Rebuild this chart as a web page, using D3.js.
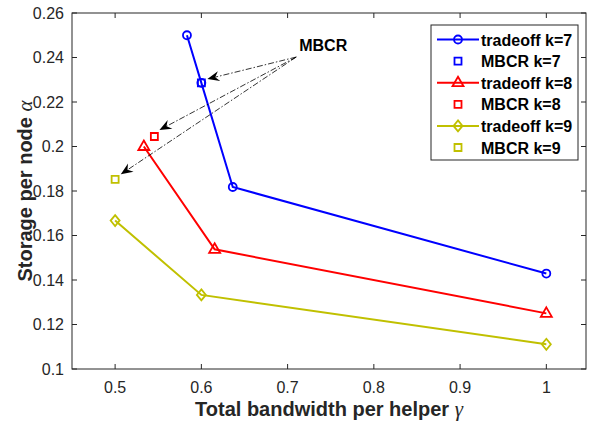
<!DOCTYPE html>
<html>
<head>
<meta charset="utf-8">
<script src="https://d3js.org/d3.v7.min.js"></script>
<style>
body { margin: 0; background: #fff; }
svg text { font-family: "Liberation Sans", Arial, sans-serif; }
</style>
</head>
<body>
<div id="chart"></div>
<script>
// series data
var x7 = [0.5833, 0.6, 0.6364, 1];
var y7 = [0.25, 0.2286, 0.1818, 0.1429];
var x8 = [0.5333, 0.6154, 1];
var y8 = [0.2, 0.1538, 0.125];
var x9 = [0.5, 0.6, 1];
var y9 = [0.1667, 0.1333, 0.1111];
var mbcrX = [0.6, 0.5455, 0.5];
var mbcrY = [0.2286, 0.2045, 0.1852];
var xTicks = [0.5, 0.6, 0.7, 0.8, 0.9, 1];
var yTicks = [0.1, 0.12, 0.14, 0.16, 0.18, 0.2, 0.22, 0.24, 0.26];
// annotation: text and arrows (data coords)
var noteText = "MBCR";
var notePos = [0.7135, 0.2456];
var arrowFrom = [0.71, 0.2402];
var arrowToX = [0.607, 0.5514, 0.5066];
var arrowToY = [0.2303, 0.2074, 0.1875];

var width = 590, height = 422;
var mLeft = 72, mRight = 586, mTop = 13, mBottom = 369;

var x = d3.scaleLinear().domain([0.45, 1.046]).range([mLeft, mRight]);
var y = d3.scaleLinear().domain([0.1, 0.26]).range([mBottom, mTop]);

var svg = d3.select("#chart").append("svg")
    .attr("width", width).attr("height", height);

var series = [
    {name: "tradeoff k=7", xs: x7, ys: y7, color: "#0000ff", marker: "circle"},
    {name: "tradeoff k=8", xs: x8, ys: y8, color: "#ff0000", marker: "triangle"},
    {name: "tradeoff k=9", xs: x9, ys: y9, color: "#c0c000", marker: "diamond"}
];

function markerPath(type) {
    if (type == "circle") return d3.symbol().type(d3.symbolCircle).size(50)();
    if (type == "triangle") return "M0,-6L5.5,3.5L-5.5,3.5Z";
    if (type == "diamond") return "M0,-5.5L4.5,0L0,5.5L-4.5,0Z";
    return "M-3.5,-3.5H3.5V3.5H-3.5Z";
}

// axes box
svg.append("rect").attr("x", mLeft).attr("y", mTop)
    .attr("width", mRight - mLeft).attr("height", mBottom - mTop)
    .attr("fill", "none").attr("stroke", "#262626").attr("stroke-width", 1);

// ticks, inward on all four sides
var axisG = svg.append("g").attr("stroke", "#262626").attr("stroke-width", 1);
xTicks.forEach(function(t) {
    axisG.append("line").attr("x1", x(t)).attr("x2", x(t)).attr("y1", mBottom).attr("y2", mBottom - 5);
    axisG.append("line").attr("x1", x(t)).attr("x2", x(t)).attr("y1", mTop).attr("y2", mTop + 5);
});
yTicks.forEach(function(t) {
    axisG.append("line").attr("y1", y(t)).attr("y2", y(t)).attr("x1", mLeft).attr("x2", mLeft + 5);
    axisG.append("line").attr("y1", y(t)).attr("y2", y(t)).attr("x1", mRight).attr("x2", mRight - 5);
});
svg.selectAll(".xt").data(xTicks).enter().append("text")
    .attr("x", function(d) { return x(d); }).attr("y", mBottom + 24)
    .attr("text-anchor", "middle").attr("font-size", "16px").attr("fill", "#262626")
    .text(function(d) { return d3.format("")(d); });
svg.selectAll(".yt").data(yTicks).enter().append("text")
    .attr("x", mLeft - 8).attr("y", function(d) { return y(d) + 5.5; })
    .attr("text-anchor", "end").attr("font-size", "16px").attr("fill", "#262626")
    .text(function(d) { return d3.format("")(d); });

// axis labels
var xl = svg.append("text").attr("x", (mLeft + mRight) / 2).attr("y", 416)
    .attr("text-anchor", "middle").attr("font-size", "20px").attr("font-weight", "bold").attr("fill", "#262626");
xl.append("tspan").text("Total bandwidth per helper ");
xl.append("tspan").attr("font-family", "'Liberation Serif', serif").attr("font-style", "italic")
    .attr("font-weight", "normal").attr("font-size", "21px").text("γ");
var yl = svg.append("text").attr("transform", "translate(32," + ((mTop + mBottom) / 2) + ") rotate(-90)")
    .attr("text-anchor", "middle").attr("font-size", "20px").attr("font-weight", "bold").attr("fill", "#262626");
yl.append("tspan").text("Storage per node ");
yl.append("tspan").attr("font-family", "'Liberation Serif', serif").attr("font-style", "italic")
    .attr("font-weight", "normal").attr("font-size", "21px").text("α");

// lines and markers
var line = d3.line().x(function(d) { return x(d[0]); }).y(function(d) { return y(d[1]); });
series.forEach(function(s) {
    var pts = s.xs.map(function(v, i) { return [v, s.ys[i]]; });
    svg.append("path").datum(pts).attr("d", line)
        .attr("fill", "none").attr("stroke", s.color).attr("stroke-width", 2);
    svg.selectAll(null).data(pts).enter().append("path")
        .attr("transform", function(d) { return "translate(" + x(d[0]) + "," + y(d[1]) + ")"; })
        .attr("d", markerPath(s.marker))
        .attr("fill", "none").attr("stroke", s.color).attr("stroke-width", 1.8);
});
mbcrX.forEach(function(v, i) {
    svg.append("path")
        .attr("transform", "translate(" + x(v) + "," + y(mbcrY[i]) + ")")
        .attr("d", markerPath("square"))
        .attr("fill", "none").attr("stroke", series[i].color).attr("stroke-width", 1.8);
});

// annotation arrows
arrowToX.forEach(function(v, i) {
    var x0 = x(arrowFrom[0]), y0 = y(arrowFrom[1]);
    var x1 = x(v), y1 = y(arrowToY[i]);
    var ang = Math.atan2(y1 - y0, x1 - x0);
    svg.append("line").attr("x1", x0).attr("y1", y0)
        .attr("x2", x1 - 8 * Math.cos(ang)).attr("y2", y1 - 8 * Math.sin(ang))
        .attr("stroke", "#000").attr("stroke-width", 0.8).attr("stroke-dasharray", "6,2,1.5,2");
    svg.append("path")
        .attr("transform", "translate(" + x1 + "," + y1 + ") rotate(" + (ang * 180 / Math.PI) + ")")
        .attr("d", "M0,0L-12,-5L-8,0L-12,5Z").attr("fill", "#000");
});
svg.append("text").attr("x", x(notePos[0])).attr("y", y(notePos[1]) + 6)
    .attr("font-size", "16px").attr("font-weight", "bold").attr("fill", "#000")
    .text(noteText);

// legend
var legendItems = [
    {name: "tradeoff k=7", color: "#0000ff", marker: "circle", line: true},
    {name: "MBCR k=7", color: "#0000ff", marker: "square", line: false},
    {name: "tradeoff k=8", color: "#ff0000", marker: "triangle", line: true},
    {name: "MBCR k=8", color: "#ff0000", marker: "square", line: false},
    {name: "tradeoff k=9", color: "#c0c000", marker: "diamond", line: true},
    {name: "MBCR k=9", color: "#c0c000", marker: "square", line: false}
];
var lg = svg.append("g");
lg.append("rect").attr("x", 431).attr("y", 25).attr("width", 147).attr("height", 135)
    .attr("fill", "#fff").attr("stroke", "#262626").attr("stroke-width", 1);
legendItems.forEach(function(it, i) {
    var ry = 39.5 + i * 21.6;
    if (it.line) {
        lg.append("line").attr("x1", 437).attr("x2", 479).attr("y1", ry).attr("y2", ry)
            .attr("stroke", it.color).attr("stroke-width", 2);
    }
    lg.append("path").attr("transform", "translate(458," + ry + ")")
        .attr("d", markerPath(it.marker))
        .attr("fill", "none").attr("stroke", it.color).attr("stroke-width", 1.8);
    lg.append("text").attr("x", 481).attr("y", ry + 6)
        .attr("font-size", "16px").attr("font-weight", "bold").attr("fill", "#000")
        .text(it.name);
});
</script>
</body>
</html>
